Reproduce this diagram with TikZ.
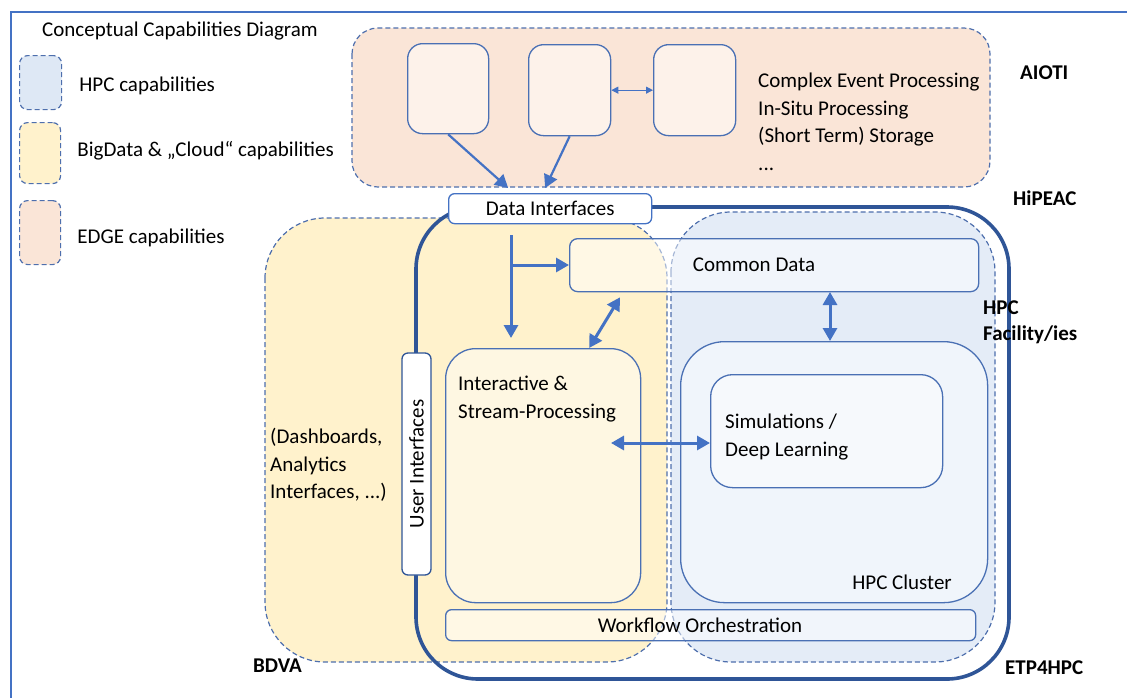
\documentclass[tikz,border=0pt]{standalone}
\usepackage{fontspec}
\setmainfont{Carlito}
\usetikzlibrary{arrows.meta,positioning}

\definecolor{frameblue}{HTML}{4472C4}
\definecolor{dashblue}{HTML}{4E6FAD}
\definecolor{boxblue}{HTML}{4A70B4}
\definecolor{darkblue}{HTML}{2F5597}
\definecolor{arrowblue}{HTML}{4472C4}
\definecolor{edgefill}{HTML}{FAE5D7}
\definecolor{edgebox}{HTML}{FDF2EA}
\definecolor{bigfill}{HTML}{FFF2CC}
\definecolor{bigbox}{HTML}{FEF7E2}
\definecolor{hpcfill}{HTML}{E4ECF7}
\definecolor{hpcleg}{HTML}{DEE8F5}
\definecolor{hpcbox}{HTML}{F0F5FB}

\begin{document}
\begin{tikzpicture}[x=1pt, y=-1pt,
  font=\fontsize{21}{27.5}\selectfont,
  region/.style={draw=dashblue, line width=1.2pt, dash pattern=on 5pt off 3pt},
  box/.style={draw=boxblue, line width=1.3pt, anchor=north west, inner sep=0pt},
  txt/.style={anchor=west, align=left, inner sep=0pt},
  tag/.style={anchor=west, inner sep=0pt, font=\fontsize{21}{26}\selectfont\bfseries},
  flow/.style={draw=arrowblue, line width=3pt, -{Triangle[length=13pt,width=14pt]}},
  dflow/.style={draw=arrowblue, line width=3pt, {Triangle[length=13pt,width=14pt]}-{Triangle[length=13pt,width=14pt]}},
  thin/.style={draw=arrowblue, line width=1pt, {Triangle[length=7pt,width=7pt]}-{Triangle[length=7pt,width=7pt]}}]

  \useasboundingbox (0,0) rectangle (1127,697);

  % frame
  \draw[frameblue, line width=2.2pt] (11,700) -- (11,12) -- (1130,12);

  % legend
  \node[anchor=center] (title) at (180,31) {Conceptual Capabilities Diagram};
  \node[box, region, fill=hpcleg, rounded corners=8pt, minimum width=42pt, minimum height=54pt] (leghpc) at (19,55) {};
  \node[box, region, fill=bigfill, rounded corners=8pt, minimum width=41pt, minimum height=61pt] (legbig) at (19,122) {};
  \node[box, region, fill=edgefill, rounded corners=8pt, minimum width=41pt, minimum height=64pt] (legedge) at (19,200) {};
  \node[txt, right=17pt of leghpc, yshift=-3pt] (hpctxt) {HPC capabilities};
  \node[txt, right=16pt of legbig, yshift=2pt] (bigtxt) {BigData \& „Cloud“ capabilities};
  \node[txt, right=16pt of legedge, yshift=-5pt] (edgetxt) {EDGE capabilities};

  % EDGE
  \draw[region, fill=edgefill, rounded corners=26pt] (352,28) rectangle (990,187);
  \node[box, fill=edgebox, rounded corners=15pt, minimum width=81pt, minimum height=90pt] (dev1) at (407,43) {};
  \node[box, fill=edgebox, rounded corners=15pt, minimum width=82pt, minimum height=91pt] (dev2) at (528,44) {};
  \node[box, fill=edgebox, rounded corners=15pt, minimum width=82pt, minimum height=91pt] (dev3) at (653,44) {};
  \node[txt] (edgelist) at (758,122) {Complex Event Processing\\In-Situ Processing\\(Short Term) Storage\\...};

  % BigData and HPC areas
  \draw[region, fill=bigfill, rounded corners=60pt] (265,218) rectangle (667,662);
  \draw[region, fill=hpcfill, rounded corners=60pt] (671,212) rectangle (995,662);
  \draw[darkblue, line width=3.6pt, rounded corners=62pt] (416,207) rectangle (1009,679);

  % boxes
  \node[box, draw=arrowblue, fill=white, rounded corners=6pt, minimum width=203pt, minimum height=30pt] (datain) at (448,193) {};
  \node (dilabel) at (datain.center) {Data Interfaces};
  \node[box, fill=white, fill opacity=.5, draw opacity=1, rounded corners=8pt, minimum width=409pt, minimum height=53pt] (common) at (569,238) {};
  \node (cdlabel) at (754,265) {Common Data};
  \node[box, fill=bigbox, rounded corners=30pt, minimum width=195pt, minimum height=254pt] (inter) at (445,348) {};
  \node[txt] (interlabel) at (458,399) {Interactive \&\\Stream-Processing};
  \node[box, fill=hpcbox, rounded corners=44pt, minimum width=307pt, minimum height=261pt] (cluster) at (680,341) {};
  \node[txt, anchor=east] (clusterlabel) at (952,582) {HPC Cluster};
  \node[box, fill=white, fill opacity=.4, draw opacity=1, rounded corners=22pt, minimum width=232pt, minimum height=113pt] (sim) at (710,374) {};
  \node[txt] (simlabel) at (725,437) {Simulations /\\Deep Learning};
  \node[box, fill=white, fill opacity=.5, draw opacity=1, rounded corners=6pt, minimum width=530pt, minimum height=31pt] (workflow) at (445,609) {};
  \node (wflabel) at (700,625) {Workflow Orchestration};
  \node[draw=darkblue, line width=1.3pt, fill=white, rounded corners=6pt, rotate=90, minimum width=222pt, minimum height=29pt, inner sep=0pt] (ui) at (416.5,464) {User Interfaces};
  \node[txt] (dash) at (270,465) {(Dashboards,\\Analytics\\Interfaces, ...)};

  % labels
  \node[tag] (aioti) at (1020,73) {AIOTI};
  \node[tag] (hipeac) at (1013,198) {HiPEAC};
  \node[tag, align=left] (facility) at (983,322) {HPC\\Facility/ies};
  \node[tag] (bdva) at (253,666) {BDVA};
  \node[tag] (etp) at (1005,668) {ETP4HPC};

  % connectors
  \draw[flow, line width=2.2pt] (dev1.south) -- ([xshift=-42pt,yshift=5pt]datain.north);
  \draw[flow, line width=2.2pt] (dev2.south) -- ([xshift=-5pt,yshift=5pt]datain.north);
  \draw[thin] (dev2.east) -- (dev3.west);
  \coordinate (dsrc) at (511,235);
  \coordinate (dsplit) at (511,265);
  \draw[flow, shorten >=10pt] (dsrc) -- (dsrc |- inter.north);
  \draw[flow] (dsplit) -- (dsplit -| common.west);
  \draw[dflow] ([xshift=46pt]inter.north) -- ([xshift=51pt,yshift=-5pt]common.south west);
  \coordinate (cdown) at (830,292);
  \draw[dflow] (cdown) -- (cdown |- cluster.north);
  \coordinate (hsrc) at (611,443);
  \draw[dflow] (hsrc) -- (hsrc -| sim.west);

\end{tikzpicture}
\end{document}
